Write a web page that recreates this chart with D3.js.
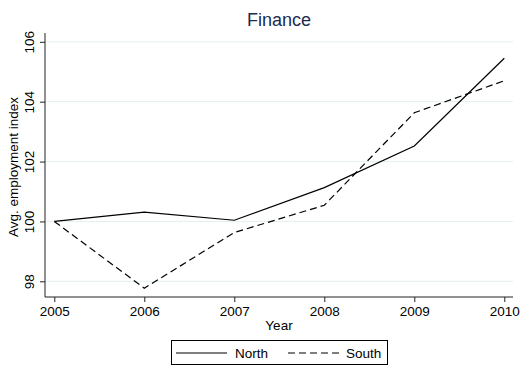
<!DOCTYPE html>
<html>
<head>
<meta charset="utf-8">
<script src="https://cdn.jsdelivr.net/npm/d3@7"></script>
<style>
  html, body { margin: 0; padding: 0; background: #fff; }
  svg { display: block; font-family: "Liberation Sans", Arial, sans-serif; }
</style>
</head>
<body>
<svg id="chart" width="521" height="367"></svg>
<script>
// Average employment index in the finance sector, by region
const years = [2005, 2006, 2007, 2008, 2009, 2010];
const northValues = [100.0, 100.31, 100.04, 101.13, 102.52, 105.45];
const southValues = [100.0, 97.77, 99.63, 100.54, 103.63, 104.70];
const yTicks = [98, 100, 102, 104, 106];
const seriesNames = ["North", "South"];

const svg = d3.select("#chart");
const fontSize = "13.5px";

// Plot region
const plot = { left: 45, right: 513, top: 33, bottom: 297 };

const x = d3.scaleLinear().domain([2005, 2010]).range([54.3, 504.3]);
const y = d3.scaleLinear().domain([98, 106]).range([281.3, 41.8]);

// Grid lines
svg.append("g")
  .selectAll("line")
  .data(yTicks)
  .join("line")
  .attr("x1", plot.left)
  .attr("x2", plot.right)
  .attr("y1", d => y(d))
  .attr("y2", d => y(d))
  .attr("stroke", "#e6eff0")
  .attr("stroke-width", 1);

// Y axis
const yAxis = svg.append("g")
  .attr("transform", `translate(${plot.left},0)`)
  .call(d3.axisLeft(y).tickValues(yTicks).tickSize(5).tickFormat(d3.format("d")));
yAxis.select(".domain").remove();
yAxis.append("line")
  .attr("x1", 0).attr("x2", 0)
  .attr("y1", plot.top).attr("y2", plot.bottom)
  .attr("stroke", "#222").attr("stroke-width", 1);
yAxis.selectAll(".tick line").attr("stroke", "#222");
yAxis.selectAll(".tick text")
  .attr("x", null).attr("dy", null)
  .attr("transform", "translate(-11,0) rotate(-90)")
  .attr("text-anchor", "middle")
  .attr("fill", "#000")
  .style("font-size", fontSize)
  .style("font-family", "'Liberation Sans', Arial, sans-serif");

// X axis
const xAxis = svg.append("g")
  .attr("transform", `translate(0,${plot.bottom})`)
  .call(d3.axisBottom(x).tickValues(years).tickSize(5).tickFormat(d3.format("d")));
xAxis.select(".domain").remove();
xAxis.append("line")
  .attr("x1", plot.left).attr("x2", plot.right)
  .attr("y1", 0).attr("y2", 0)
  .attr("stroke", "#222").attr("stroke-width", 1);
xAxis.selectAll(".tick line").attr("stroke", "#222");
xAxis.selectAll(".tick text")
  .attr("y", 18.5).attr("dy", null)
  .attr("fill", "#000")
  .style("font-size", fontSize)
  .style("font-family", "'Liberation Sans', Arial, sans-serif");

// Axis titles
svg.append("text")
  .attr("transform", `translate(18,${(plot.top + plot.bottom) / 2 + 2}) rotate(-90)`)
  .attr("text-anchor", "middle")
  .style("font-size", fontSize)
  .text("Avg. employment index");

svg.append("text")
  .attr("x", (plot.left + plot.right) / 2)
  .attr("y", 330)
  .attr("text-anchor", "middle")
  .style("font-size", fontSize)
  .text("Year");

// Title
svg.append("text")
  .attr("x", (plot.left + plot.right) / 2)
  .attr("y", 26)
  .attr("text-anchor", "middle")
  .attr("fill", "#1c2b52")
  .style("font-size", "18px")
  .text("Finance");

// Series lines
const line = d3.line().x((d, i) => x(years[i])).y(d => y(d));
const series = [
  { name: seriesNames[0], values: northValues, dash: null },
  { name: seriesNames[1], values: southValues, dash: "7,4" }
];

svg.append("g")
  .selectAll("path")
  .data(series)
  .join("path")
  .attr("d", d => line(d.values))
  .attr("fill", "none")
  .attr("stroke", "#000")
  .attr("stroke-width", 1.2)
  .attr("stroke-dasharray", d => d.dash);

// Legend
const legend = svg.append("g");
legend.append("rect")
  .attr("x", 171.5).attr("y", 340.5)
  .attr("width", 216).attr("height", 24)
  .attr("fill", "#fff")
  .attr("stroke", "#000")
  .attr("stroke-width", 1);

const legendItems = [
  { name: seriesNames[0], dash: null, x1: 176, x2: 227, tx: 235 },
  { name: seriesNames[1], dash: "7,4", x1: 288, x2: 339, tx: 346 }
];
legendItems.forEach(it => {
  legend.append("line")
    .attr("x1", it.x1).attr("x2", it.x2)
    .attr("y1", 353).attr("y2", 353)
    .attr("stroke", "#000")
    .attr("stroke-width", 1.2)
    .attr("stroke-dasharray", it.dash);
  legend.append("text")
    .attr("x", it.tx).attr("y", 357.5)
    .style("font-size", fontSize)
    .text(it.name);
});
</script>
</body>
</html>
